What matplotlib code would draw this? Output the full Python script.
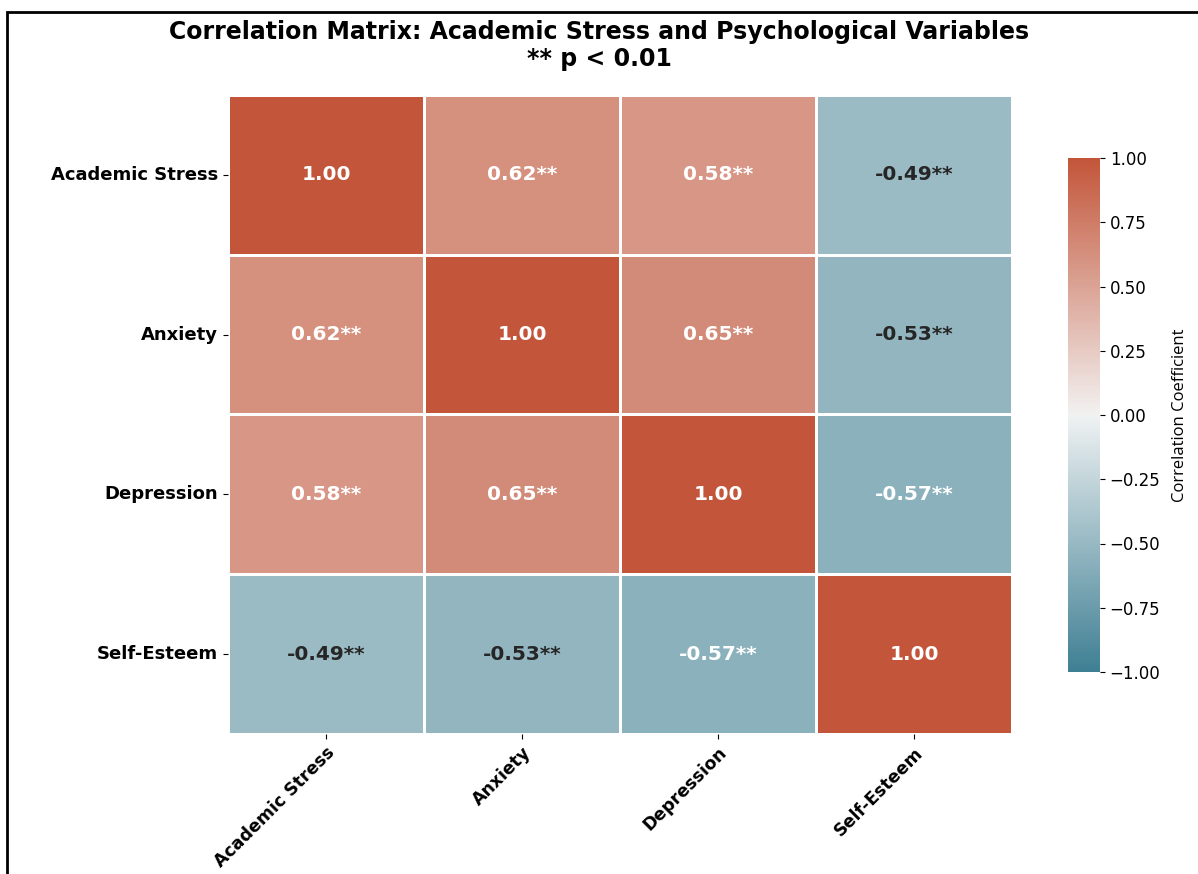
import numpy as np
import pandas as pd
import matplotlib
matplotlib.use("Agg")
import matplotlib.pyplot as plt
import seaborn as sns

variables = ["Academic Stress", "Anxiety", "Depression", "Self-Esteem"]
row_stress = [1.00, 0.62, 0.58, -0.49]
row_anxiety = [0.62, 1.00, 0.65, -0.53]
row_depression = [0.58, 0.65, 1.00, -0.57]
row_esteem = [-0.49, -0.53, -0.57, 1.00]

corr = pd.DataFrame([row_stress, row_anxiety, row_depression, row_esteem],
                    index=variables, columns=variables)

# significance markers on off-diagonal cells (all p < 0.01)
annot = corr.map(lambda v: f"{v:.2f}" if v == 1.0 else f"{v:.2f}**")

fig = plt.figure(figsize=(11.98, 8.74), dpi=100)
ax = fig.add_axes([228 / 1198, 1 - 734 / 874, 784 / 1198, 639 / 874])
cax = fig.add_axes([1068 / 1198, 1 - 672 / 874, 32 / 1198, 514 / 874])

cmap = sns.diverging_palette(220, 20, as_cmap=True)
sns.heatmap(corr, annot=annot, fmt="", cmap=cmap, vmin=-1, vmax=1, center=0,
            linewidths=2, linecolor="white", ax=ax, cbar_ax=cax,
            annot_kws={"fontsize": 14.5, "fontweight": "bold"})

cax.set_ylabel("Correlation Coefficient", fontsize=12, family="Open Sans",
               labelpad=8)
cax.tick_params(labelsize=12)
for spine in cax.spines.values():
    spine.set_visible(False)

ax.set_xticklabels(variables, rotation=45, ha="right", rotation_mode="anchor",
                   fontsize=12.5, fontweight="bold")
ax.set_yticklabels(variables, rotation=0, fontsize=13, fontweight="bold")
ax.set_xlabel("")
ax.set_ylabel("")

fig.suptitle("Correlation Matrix: Academic Stress and Psychological Variables\n** p < 0.01",
             fontsize=17, fontweight="bold", y=0.977, linespacing=1.15)

# black frame around the figure
frame = plt.Rectangle((7 / 1198, -0.05), 1.1, 1 - 12 / 874 + 0.05,
                      transform=fig.transFigure, fill=False, edgecolor="black",
                      linewidth=2, clip_on=False)
fig.patches.append(frame)

plt.savefig("out.png", dpi=100)
plt.close()
